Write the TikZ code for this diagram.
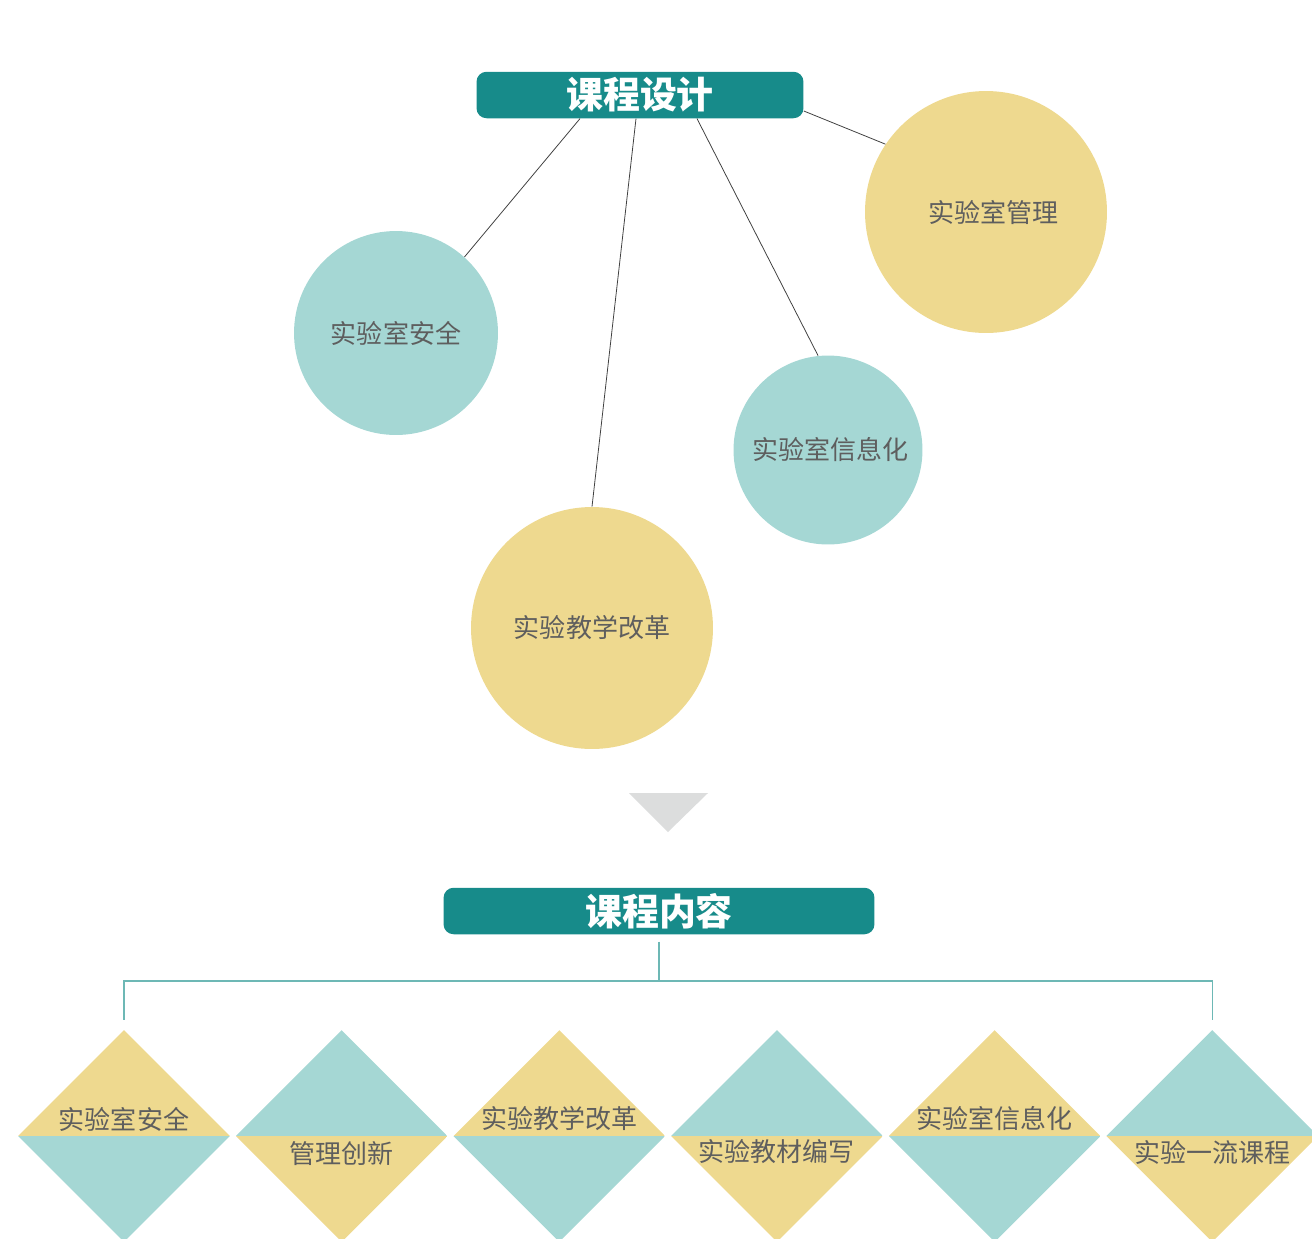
\documentclass[tikz,border=0pt]{standalone}
\usepackage{fontspec}
\setmainfont{Noto Sans CJK SC}
\usetikzlibrary{shapes.geometric}
\usetikzlibrary{positioning}
\definecolor{headteal}{HTML}{178B8A}
\definecolor{paleteal}{HTML}{A5D7D4}
\definecolor{paleyellow}{HTML}{EED98F}
\definecolor{labelgray}{HTML}{5E5E5E}
\definecolor{branchteal}{HTML}{6DB8B5}
\definecolor{markgray}{HTML}{DCDDDD}
\tikzset{
    header/.style={
           rectangle,
           rounded corners=0.2cm,
           fill=headteal,
           text=white,
           font=\fontsize{21}{24}\selectfont\bfseries,
           minimum height=0.93cm,
           inner sep=0pt,
           },
    topic/.style={
           circle,
           inner sep=0pt,
           text=labelgray,
           font=\fontsize{14.8}{17}\selectfont,
           },
    gem/.style 2 args={
           diamond,
           minimum width=4.24cm, minimum height=4.24cm,
           inner sep=0pt,
           path picture={
               \fill[#1] (path picture bounding box.north west) rectangle (path picture bounding box.east);
               \fill[#2] (path picture bounding box.west) rectangle (path picture bounding box.south east);
               },
           },
    gemtext/.style={
           inner sep=0pt,
           text=labelgray,
           font=\fontsize{14.8}{17}\selectfont,
           },
}

\begin{document}
\begin{tikzpicture}[x=0.02cm, y=-0.02cm, link/.style={draw=black!75, line width=0.45pt}, branch/.style={draw=branchteal, line width=0.7pt}]
        \useasboundingbox (0,0) rectangle (1312,1238);
        \clip (0,0) rectangle (1312,1238);
        % upper part: course design
        \node[header, minimum width=6.54cm] (design) at (640,95) {课程设计};
        \node[topic, fill=paleteal, minimum size=4.08cm] (safe) at (396,333) {实验室安全};
        \node[topic, fill=paleyellow, minimum size=4.84cm] (manage) at (986,212) {\hspace{0.28cm}实验室管理};
        \node[topic, fill=paleteal, minimum size=3.78cm] (info) at (828,450) {\hspace{0.1cm}实验室信息化};
        \node[topic, fill=paleyellow, minimum size=4.84cm] (reform) at (592,628) {实验教学改革};

        \path[link] ([xshift=-1.2cm]design.south) edge (safe.48)
        ([xshift=-0.08cm]design.south) edge (reform.north)
        ([xshift=1.14cm]design.south) edge (info.96)
        ([yshift=-0.32cm]design.east) edge (manage.146);

        \fill[markgray] (629,793) -- (708,793) -- (668,832) -- cycle;

        % lower part: course content
        \node[header, minimum width=8.62cm] (content) at (659,911) {课程内容};
        \node[gem={paleyellow}{paleteal}] (d1) at (124,1136) {};
        \node[gem={paleteal}{paleyellow}, right=0.1cm of d1] (d2) {};
        \node[gem={paleyellow}{paleteal}, right=0.1cm of d2] (d3) {};
        \node[gem={paleteal}{paleyellow}, right=0.1cm of d3] (d4) {};
        \node[gem={paleyellow}{paleteal}, right=0.1cm of d4] (d5) {};
        \node[gem={paleteal}{paleyellow}, right=0.1cm of d5] (d6) {};
        \node[gemtext] (t1) at ([yshift=0.34cm]d1.center) {实验室安全};
        \node[gemtext] (t2) at ([yshift=-0.36cm]d2.center) {管理创新};
        \node[gemtext] (t3) at ([yshift=0.34cm]d3.center) {实验教学改革};
        \node[gemtext] (t4) at ([yshift=-0.31cm]d4.center) {实验教材编写};
        \node[gemtext] (t5) at ([yshift=0.34cm]d5.center) {实验室信息化};
        \node[gemtext] (t6) at ([yshift=-0.34cm]d6.center) {实验一流课程};

        \coordinate (hub) at (659,981);
        \draw[branch] ([yshift=-0.14cm]content.south) -- (hub);
        \draw[branch] ([yshift=0.2cm]d1.north) |- (hub) -| ([yshift=0.2cm]d6.north);
    \end{tikzpicture}
\end{document}
